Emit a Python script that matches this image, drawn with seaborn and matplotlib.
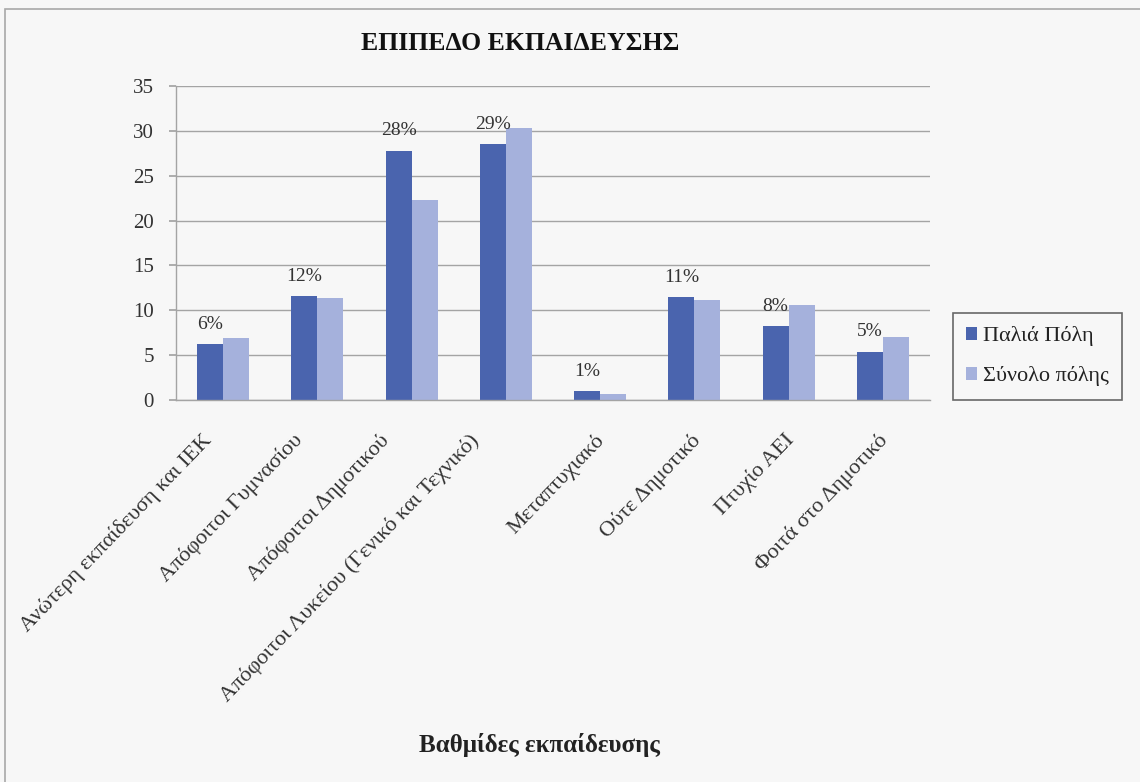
import matplotlib
matplotlib.use("Agg")
import matplotlib.pyplot as plt
import matplotlib.transforms as mtransforms
import seaborn as sns
import pandas as pd
from matplotlib.patches import Rectangle

categories = [
    "Ανώτερη εκπαίδευση και ΙΕΚ",
    "Απόφοιτοι Γυμνασίου",
    "Απόφοιτοι Δημοτικού",
    "Απόφοιτοι Λυκείου (Γενικό και Τεχνικό)",
    "Μεταπτυχιακό",
    "Ούτε Δημοτικό",
    "Πτυχίο ΑΕΙ",
    "Φοιτά στο Δημοτικό",
]
series_names = ["Παλιά Πόλη", "Σύνολο πόλης"]
palia_poli = [6.2, 11.6, 27.8, 28.5, 1.0, 11.5, 8.2, 5.4]
synolo_polis = [6.9, 11.4, 22.3, 30.3, 0.7, 11.1, 10.6, 7.0]
pct_labels = ["6%", "12%", "28%", "29%", "1%", "11%", "8%", "5%"]
yticks = [0, 5, 10, 15, 20, 25, 30, 35]

title = "ΕΠΙΠΕΔΟ ΕΚΠΑΙΔΕΥΣΗΣ"
xlabel = "Βαθμίδες εκπαίδευσης"

colors = ["#4A64AE", "#A5B1DC"]
bg = "#F7F7F7"
grid_c = "#A4A4A4"
txt_c = "#333333"

# horizontal nudges (pixels) of the rotated category labels, as in the original layout
label_nudge_px = [-21, -25, -32, -37, -6, -4, -5, -5]

df = pd.DataFrame({
    "cat": categories * 2,
    "series": [series_names[0]] * len(categories) + [series_names[1]] * len(categories),
    "val": palia_poli + synolo_polis,
})

sns.set_theme(style="white")
plt.rcParams["font.family"] = ["Liberation Serif", "DejaVu Serif"]

W, H = 1140, 782
L, R, T, B = 176, 930, 86, 400
fig = plt.figure(figsize=(W / 100, H / 100), dpi=100, facecolor=bg)
ax = fig.add_axes([L / W, 1 - B / H, (R - L) / W, (B - T) / H])
ax.set_facecolor(bg)

sns.barplot(data=df, x="cat", y="val", hue="series", order=categories,
            hue_order=series_names, palette=colors, width=0.55, gap=0,
            saturation=1, ax=ax, legend=True, linewidth=0)

ax.set_ylim(0, 35)
ax.set_yticks(yticks)
ax.set_yticklabels([str(t) for t in yticks], fontsize=15, color=txt_c)
ax.yaxis.grid(True, color=grid_c, linewidth=1.0)
ax.set_axisbelow(True)
for s in ["top", "right"]:
    ax.spines[s].set_visible(False)
for s in ["left", "bottom"]:
    ax.spines[s].set_color(grid_c)
    ax.spines[s].set_linewidth(1.0)
ax.tick_params(axis="y", length=5, color=grid_c, left=True, pad=11)
ax.tick_params(axis="x", length=0, pad=22)

ax.set_xticks(range(len(categories)))
ax.set_xticklabels(categories, rotation=46, ha="right", va="top",
                   rotation_mode="anchor", fontsize=16, color=txt_c)
for lbl, dx in zip(ax.get_xticklabels(), label_nudge_px):
    lbl.set_transform(lbl.get_transform() +
                      mtransforms.ScaledTranslation(dx / 100, 0, fig.dpi_scale_trans))

ax.set_xlabel(xlabel, fontsize=18, fontweight="bold", color="#222222")
ax.xaxis.set_label_coords((539 - L) / (R - L), (B - 745) / (B - T))
ax.xaxis.label.set_va("center")
ax.set_ylabel("")

# data labels above the first series bars
dark_bars = ax.containers[0]
for bar, lab in zip(dark_bars, pct_labels):
    ax.annotate(lab, (bar.get_x() + bar.get_width() / 2, bar.get_height()),
                xytext=(0, 8), textcoords="offset points", ha="center",
                va="bottom", fontsize=14, color=txt_c)

leg = ax.legend(loc="upper left", bbox_to_anchor=(953 / W, 1 - 313 / H),
                bbox_transform=fig.transFigure, frameon=True, fontsize=16,
                handlelength=0.5, handleheight=0.5, handletextpad=0.25,
                borderpad=0.6, borderaxespad=0, labelspacing=0.9,
                fancybox=False)
leg.get_frame().set_edgecolor("#444444")
leg.get_frame().set_linewidth(1.2)
leg.get_frame().set_facecolor(bg)
for t in leg.get_texts():
    t.set_color("#222222")

fig.text(520 / W, 1 - 50 / H, title, ha="center", va="baseline",
         fontsize=18.5, fontweight="bold", color="#111111")

fig.patches.append(Rectangle((5 / W, -0.1), 1.2, 1 - 9 / H + 0.1,
                             transform=fig.transFigure, fill=False,
                             edgecolor="#A8A8A8", linewidth=1.2))

fig.savefig("out.png", dpi=100, facecolor=bg)
